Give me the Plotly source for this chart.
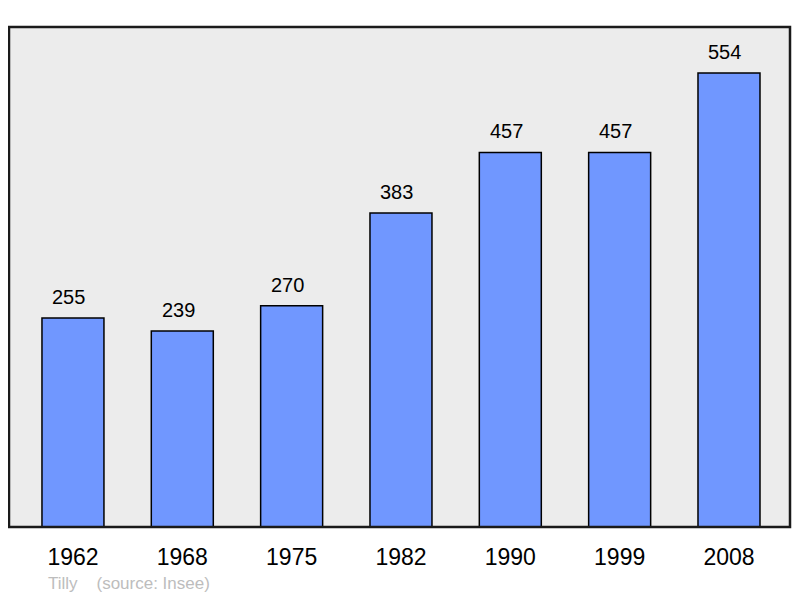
import plotly.graph_objects as go

years = ["1962", "1968", "1975", "1982", "1990", "1999", "2008"]
population = [255, 239, 270, 383, 457, 457, 554]
place = "Tilly"
source = "(source: Insee)"

xs = list(range(len(years)))
FONT = "Liberation Sans, Arial, sans-serif"

fig = go.Figure()
fig.add_trace(go.Bar(
    x=xs, y=population, width=0.567,
    marker=dict(color="#7097ff", line=dict(color="#000000", width=1.5)),
    hoverinfo="skip",
))

for i, v in zip(xs, population):
    fig.add_annotation(x=i, y=v, xref="x", yref="y", text=str(v), showarrow=False,
                       yshift=21, xshift=-4, font=dict(family=FONT, size=20, color="#000000"))

# page body has an 8px margin; figure offset accordingly
fig.add_annotation(x=(46 - 9) / 781, y=(527 - 583) / 500, xref="paper", yref="paper",
                   text=place + "\u00a0\u00a0\u00a0 " + source, showarrow=False,
                   xanchor="left", yanchor="middle",
                   font=dict(family=FONT, size=17, color="#bdbdbd"))

fig.update_layout(
    width=784, height=590,
    margin=dict(l=1, r=2, t=19, b=71),
    paper_bgcolor="#ffffff",
    plot_bgcolor="#ececec",
    showlegend=False,
    xaxis=dict(range=[-0.585, 6.558], tickvals=xs, ticktext=years, showgrid=False, zeroline=False,
               ticks="", ticklabelstandoff=14,
               tickfont=dict(family=FONT, size=23, color="#000000")),
    yaxis=dict(range=[0, 610], showgrid=False, zeroline=False, showticklabels=False, ticks=""),
    shapes=[dict(type="rect", xref="paper", yref="paper", x0=0, x1=1, y0=0, y1=1,
                 line=dict(color="#1a1a1a", width=2.5), layer="above")],
)

fig.write_html("out.html")
